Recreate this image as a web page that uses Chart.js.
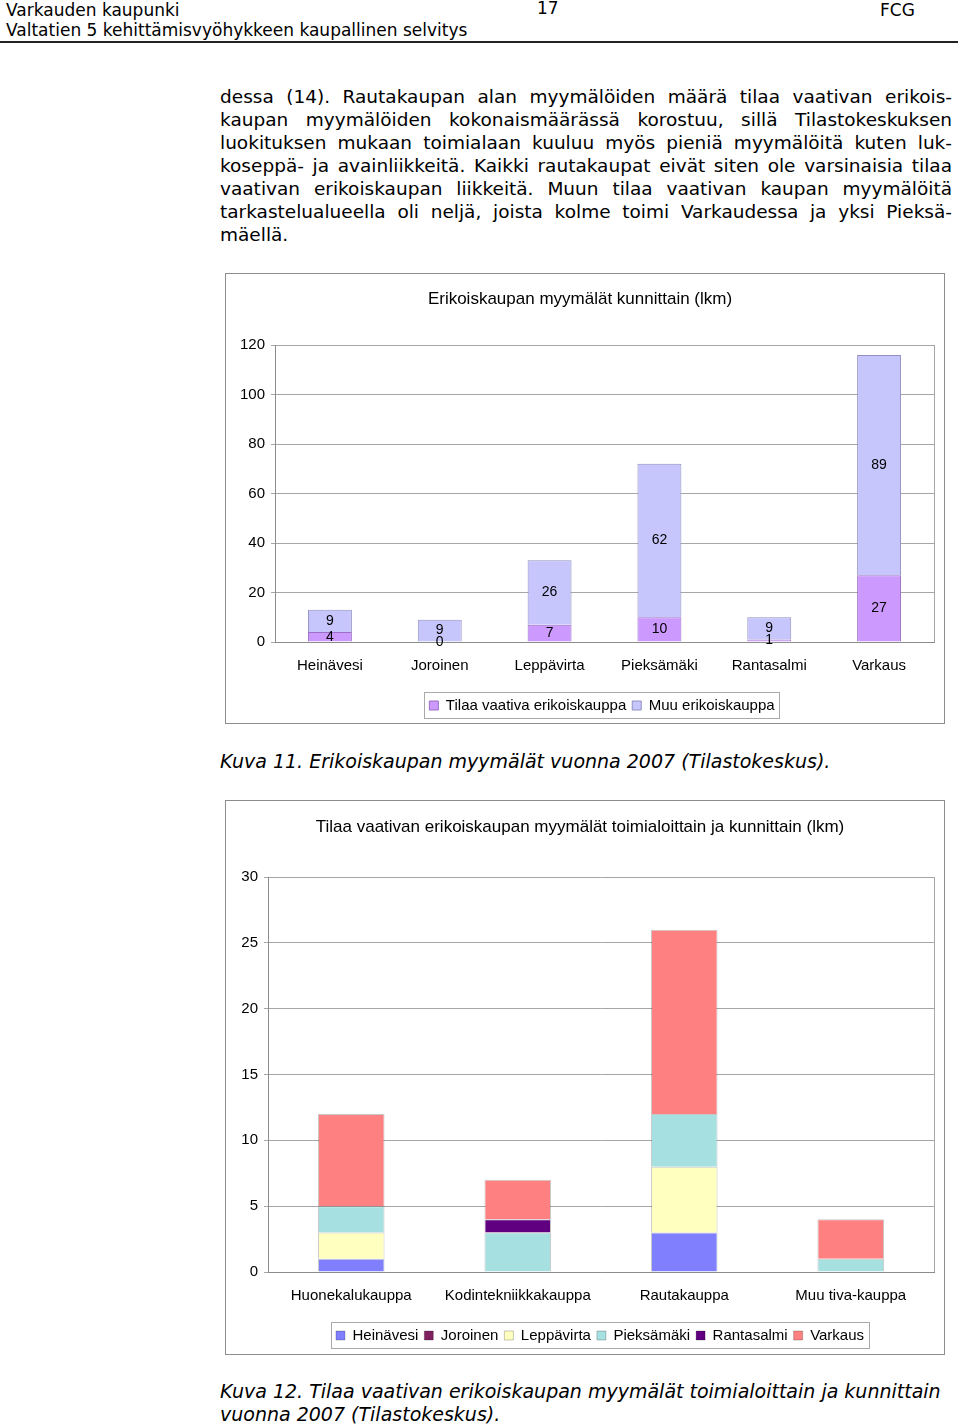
<!DOCTYPE html>
<html>
<head>
<meta charset="utf-8">
<script src="https://cdn.jsdelivr.net/npm/chart.js@4.4.0/dist/chart.umd.min.js"></script>
<style>
  body { margin: 0; background: #fff; width: 960px; height: 1427px; position: relative; overflow: hidden;
         font-family: "DejaVu Sans", Verdana, sans-serif; color: #000; }
  .hd { position: absolute; font-size: 17px; line-height: 20px; white-space: nowrap; }
  .rule { position: absolute; left: 0; top: 41px; width: 958px; height: 2px; background: #222; }
  .txt { position: absolute; left: 220px; top: 85px; width: 732px; font-size: 18.5px; line-height: 23px; }
  .txt div { white-space: nowrap; text-align: justify; text-align-last: justify; }
  .txt div.last { text-align-last: left; }
  .box { position: absolute; border: 1px solid #8c8c8c; box-sizing: border-box; }
  .box canvas { position: absolute; left: 0; top: 0; }
  .cap { position: absolute; left: 220px; font-style: italic; font-size: 19px; line-height: 23px; white-space: nowrap; }
</style>
</head>
<body>
<div class="hd" style="left:6px;top:0px">Varkauden kaupunki</div>
<div class="hd" style="left:6px;top:20px">Valtatien 5 kehittämisvyöhykkeen kaupallinen selvitys</div>
<div class="hd" style="left:537px;top:-2px">17</div>
<div class="hd" style="left:880px;top:0px">FCG</div>
<div class="rule"></div>

<div class="txt">
  <div>dessa (14). Rautakaupan alan myymälöiden määrä tilaa vaativan erikois-</div>
  <div>kaupan myymälöiden kokonaismäärässä korostuu, sillä Tilastokeskuksen</div>
  <div>luokituksen mukaan toimialaan kuuluu myös pieniä myymälöitä kuten luk-</div>
  <div>koseppä- ja avainliikkeitä. Kaikki rautakaupat eivät siten ole varsinaisia tilaa</div>
  <div>vaativan erikoiskaupan liikkeitä. Muun tilaa vaativan kaupan myymälöitä</div>
  <div>tarkastelualueella oli neljä, joista kolme toimi Varkaudessa ja yksi Pieksä-</div>
  <div class="last">mäellä.</div>
</div>

<div class="box" style="left:225px;top:273px;width:720px;height:451px">
  <canvas id="kunnat" width="718" height="449"></canvas>
</div>
<div class="cap" style="top:750px">Kuva 11. Erikoiskaupan myymälät vuonna 2007 (Tilastokeskus).</div>

<div class="box" style="left:225px;top:800px;width:720px;height:555px">
  <canvas id="toimialat" width="718" height="553"></canvas>
</div>
<div class="cap" style="top:1380px">Kuva 12. Tilaa vaativan erikoiskaupan myymälät toimialoittain ja kunnittain<br>vuonna 2007 (Tilastokeskus).</div>

<script>
// Kuva 11 data
const kunnat = ["Heinävesi", "Joroinen", "Leppävirta", "Pieksämäki", "Rantasalmi", "Varkaus"];
const tilaaVaativa = [4, 0, 7, 10, 1, 27];
const muuErikois = [9, 9, 26, 62, 9, 89];
const yTicks1 = [0, 20, 40, 60, 80, 100, 120];

// Kuva 12 data
const toimialat = ["Huonekalukauppa", "Kodintekniikkakauppa", "Rautakauppa", "Muu tiva-kauppa"];
const heinavesi = [1, 0, 3, 0];
const joroinen = [0, 0, 0, 0];
const leppavirta = [2, 0, 5, 0];
const pieksamaki = [2, 3, 4, 1];
const rantasalmi = [0, 1, 0, 0];
const varkaus = [7, 3, 14, 3];
const yTicks2 = [0, 5, 10, 15, 20, 25, 30];

const FONT = '"Liberation Sans", Arial, sans-serif';
Chart.defaults.font.family = FONT;
Chart.defaults.color = "#000";

// legend sits a bit right of centre in the original
const legendShift = {
  id: "legendShift",
  afterLayout(chart, args, opts) {
    const lg = chart.legend;
    if (!lg || !opts.dx) return;
    const tops = lg.legendHitBoxes.map((h) => h.top);
    lg.left += 2 * opts.dx;
    lg.adjustHitBoxes();
    // adjustHitBoxes adds the offset to top again, put it back
    lg.legendHitBoxes.forEach((h, i) => { h.top = tops[i]; });
  },
};

// frame around the legend items
const legendFrame = {
  id: "legendFrame",
  afterDraw(chart) {
    const hb = chart.legend && chart.legend.legendHitBoxes;
    if (!hb || !hb.length) return;
    const l = Math.min(...hb.map((h) => h.left)) - 5;
    const r = Math.max(...hb.map((h) => h.left + h.width)) + 5;
    const t = hb[0].top - 6;
    const b = hb[0].top + hb[0].height + 5;
    const ctx = chart.ctx;
    ctx.save();
    ctx.strokeStyle = "#aaa";
    ctx.lineWidth = 1;
    ctx.strokeRect(Math.round(l) + 0.5, Math.round(t) + 0.5, Math.round(r - l), Math.round(b - t));
    ctx.restore();
  },
};

// right edge of the plot area
const plotFrame = {
  id: "plotFrame",
  afterDraw(chart) {
    const a = chart.chartArea;
    const ctx = chart.ctx;
    ctx.save();
    ctx.strokeStyle = "#a6a6a6";
    ctx.lineWidth = 1;
    ctx.beginPath();
    ctx.moveTo(Math.round(a.right) + 0.5, a.top);
    ctx.lineTo(Math.round(a.right) + 0.5, a.bottom);
    ctx.stroke();
    ctx.restore();
  },
};

// values in the middle of each segment
const segLabels = {
  id: "segLabels",
  afterDatasetsDraw(chart) {
    const ctx = chart.ctx;
    ctx.save();
    ctx.font = "14px " + FONT;
    ctx.fillStyle = "#000";
    ctx.textAlign = "center";
    ctx.textBaseline = "middle";
    chart.data.datasets.forEach((ds, i) => {
      chart.getDatasetMeta(i).data.forEach((bar, j) => {
        const p = bar.getProps(["x", "y", "base"], true);
        ctx.fillText(String(ds.data[j]), p.x, (p.y + p.base) / 2);
      });
    });
    ctx.restore();
  },
};

function yScale(ticks, width) {
  return {
    stacked: true,
    min: ticks[0],
    max: ticks[ticks.length - 1],
    afterBuildTicks: (s) => { s.ticks = ticks.map((v) => ({ value: v })); },
    afterFit: (s) => { s.width = width; },
    ticks: { font: { size: 15 }, padding: 6 },
    grid: { color: "#a6a6a6", tickLength: 4 },
    border: { color: "#8c8c8c" },
  };
}

const xScale = {
  stacked: true,
  afterFit: (s) => { s.height = 50; },
  ticks: { font: { size: 15 }, padding: 7, maxRotation: 0, autoSkip: false },
  grid: { display: false },
  border: { color: "#8c8c8c" },
};

function legendOpts() {
  return {
    position: "bottom",
    labels: { boxWidth: 9, boxHeight: 9, padding: 6, font: { size: 15 }, color: "#000" },
  };
}

new Chart(document.getElementById("kunnat"), {
  type: "bar",
  data: {
    labels: kunnat,
    datasets: [
      { label: "Tilaa vaativa erikoiskauppa", data: tilaaVaativa,
        backgroundColor: "#cc99ff", borderColor: "#9a6fc4", borderWidth: 1 },
      { label: "Muu erikoiskauppa", data: muuErikois,
        backgroundColor: "#c6c6fc", borderColor: "#9090c0", borderWidth: 1 },
    ],
  },
  options: {
    responsive: false,
    animation: false,
    layout: { padding: { left: 0, right: 10, top: 0, bottom: 0 } },
    categoryPercentage: 1,
    barPercentage: 0.4,
    scales: { x: xScale, y: yScale(yTicks1, 49) },
    plugins: {
      title: { display: true, text: "Erikoiskaupan myymälät kunnittain (lkm)",
               font: { size: 17, weight: "normal" }, color: "#000", padding: { top: 15, bottom: 35.6 } },
      legend: legendOpts(),
      legendShift: { dx: 22 },
      tooltip: { enabled: false },
    },
  },
  plugins: [legendShift, legendFrame, plotFrame, segLabels],
});

const edge = "rgba(0,0,0,0.22)";
new Chart(document.getElementById("toimialat"), {
  type: "bar",
  data: {
    labels: toimialat,
    datasets: [
      { label: "Heinävesi", data: heinavesi, backgroundColor: "#8080ff", borderColor: edge, borderWidth: 1 },
      { label: "Joroinen", data: joroinen, backgroundColor: "#802060", borderColor: edge, borderWidth: 1 },
      { label: "Leppävirta", data: leppavirta, backgroundColor: "#ffffc0", borderColor: edge, borderWidth: 1 },
      { label: "Pieksämäki", data: pieksamaki, backgroundColor: "#a6e0e0", borderColor: edge, borderWidth: 1 },
      { label: "Rantasalmi", data: rantasalmi, backgroundColor: "#600080", borderColor: edge, borderWidth: 1 },
      { label: "Varkaus", data: varkaus, backgroundColor: "#ff8080", borderColor: edge, borderWidth: 1 },
    ],
  },
  options: {
    responsive: false,
    animation: false,
    layout: { padding: { left: 0, right: 10, top: 0, bottom: 1 } },
    categoryPercentage: 1,
    barPercentage: 0.4,
    scales: { x: xScale, y: yScale(yTicks2, 42) },
    plugins: {
      title: { display: true, text: "Tilaa vaativan erikoiskaupan myymälät toimialoittain ja kunnittain (lkm)",
               font: { size: 17, weight: "normal" }, color: "#000", padding: { top: 16, bottom: 39.6 } },
      legend: legendOpts(),
      legendShift: { dx: 20 },
      tooltip: { enabled: false },
    },
  },
  plugins: [legendShift, legendFrame, plotFrame],
});
</script>
</body>
</html>
